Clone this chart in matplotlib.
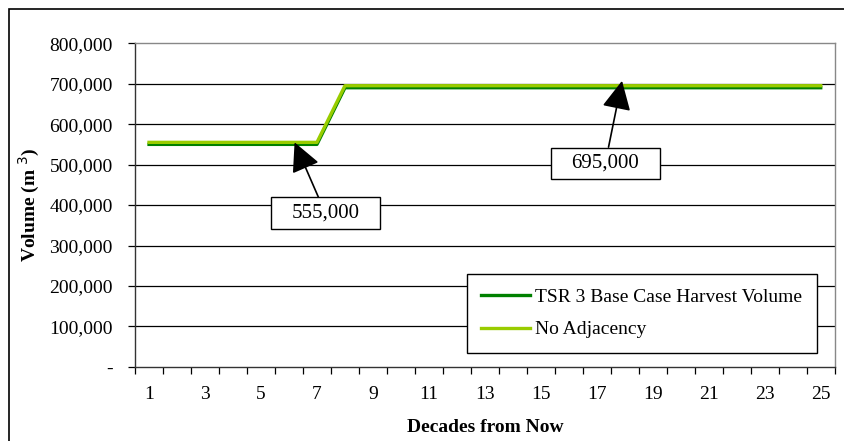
import matplotlib.pyplot as plt
from matplotlib.patches import Rectangle
from matplotlib.path import Path

plt.rcParams['font.family'] = ['Liberation Serif', 'DejaVu Serif']

decades = list(range(1, 26))
base_case = [550000] * 7 + [690000] * 18
no_adjacency = [555000] * 7 + [695000] * 18
x_labels = [str(d) for d in range(1, 26, 2)]
y_ticks = list(range(0, 800001, 100000))


def wide_box(x0, y0, width, height, mutation_size):
    # callout box: wider padding left/right than top/bottom
    px = 1.0 * mutation_size
    py = 0.3 * mutation_size
    x0, x1 = x0 - px, x0 + width + px
    y0, y1 = y0 - py, y0 + height + py
    return Path([(x0, y0), (x1, y0), (x1, y1), (x0, y1), (x0, y0)], closed=True)


fig = plt.figure(figsize=(8.44, 4.41), dpi=100)
ax = fig.add_axes([0.160, 0.168, 0.829, 0.734])

# outer frame of the chart
fig.patches.append(Rectangle((9 / 844, -0.1), 1.2, (441 - 9) / 441 + 0.1,
                             transform=fig.transFigure, fill=False,
                             edgecolor='black', linewidth=1.2))

for y in y_ticks[1:-1]:
    ax.axhline(y, color='black', linewidth=0.9, zorder=1)

ax.plot(decades, base_case, color='#008000', linewidth=2.4,
        label='TSR 3 Base Case Harvest Volume', zorder=3)
ax.plot(decades, no_adjacency, color='#99CC00', linewidth=2.4,
        label='No Adjacency', zorder=4)

ax.set_xlim(0.5, 25.5)
ax.set_ylim(0, 800000)
ax.set_xticks(range(1, 26, 2))
ax.set_xticklabels(x_labels, fontsize=14)
ax.set_xticks([d + 0.5 for d in range(0, 26)], minor=True)
ax.tick_params(axis='x', which='major', length=0, pad=14)
ax.tick_params(axis='x', which='minor', length=5, width=0.9, direction='out')
ax.set_yticks(y_ticks)
ax.set_yticklabels(['-'] + ['{:,}'.format(v) for v in y_ticks[1:]], fontsize=14)
ax.tick_params(axis='y', length=5, width=0.9, direction='out', pad=11)

ax.spines['top'].set_color('#888888')
ax.spines['right'].set_color('#888888')
ax.spines['left'].set_color('#333333')
ax.spines['bottom'].set_color('#333333')
for s in ax.spines.values():
    s.set_linewidth(1.0)

ax.set_xlabel('Decades from Now', fontsize=14, fontweight='bold', labelpad=11)
ax.set_ylabel('Volume (m $^{3}$)', fontsize=14, fontweight='bold', labelpad=5)

bbox = dict(boxstyle=wide_box, facecolor='white', edgecolor='black', linewidth=1.0)
arrow = dict(arrowstyle='-|>,head_length=1.2,head_width=0.6', color='black',
             linewidth=1.2, shrinkA=0, shrinkB=0)
ax.annotate('555,000', xy=(6.2, 555000), xytext=(7.3, 380000),
            fontsize=15, ha='center', va='center', bbox=bbox, arrowprops=arrow, zorder=6)
ax.annotate('695,000', xy=(17.9, 707000), xytext=(17.3, 503000),
            fontsize=15, ha='center', va='center', bbox=bbox, arrowprops=arrow, zorder=6)

leg = ax.legend(loc='lower right', bbox_to_anchor=(0.974, 0.043), fontsize=14,
                frameon=True, fancybox=False, edgecolor='black',
                handlelength=2.5, handletextpad=0.25, labelspacing=0.75,
                borderpad=0.75, borderaxespad=0, framealpha=1)
leg.get_frame().set_linewidth(1.0)
leg.set_zorder(7)

fig.savefig('out.png', dpi=100)
